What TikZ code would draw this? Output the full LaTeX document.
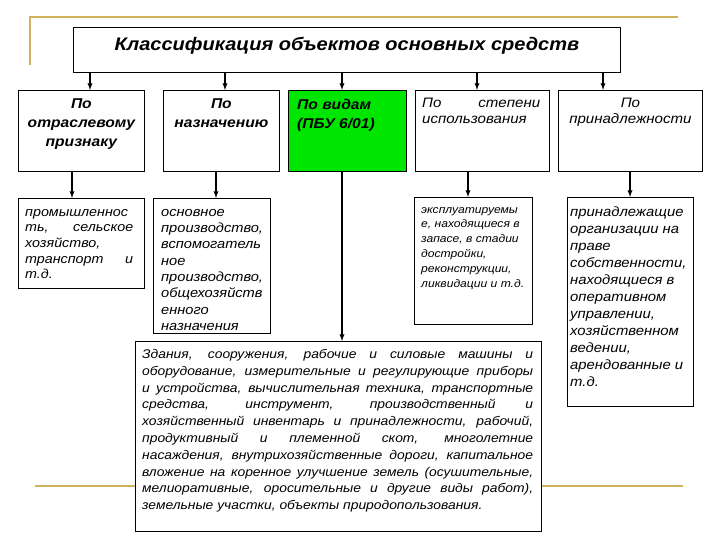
\documentclass[tikz,border=0pt]{standalone}
\usepackage{fontspec}
\setmainfont{Liberation Sans}[FakeStretch=1.1]
\usetikzlibrary{positioning}
\usetikzlibrary{arrows}
\definecolor{slidegold}{RGB}{208,178,92}
\definecolor{slidegreen}{RGB}{0,230,0}
\tikzstyle{frame}=[draw=black,line width=0.8pt,fill=white,anchor=north west,inner sep=0pt]
\tikzstyle{edge} = [draw,line width=1.3pt,-latex]
\tikzstyle{goldline} = [draw=slidegold,line width=2.6pt]
\tikzstyle{titletext}=[font=\bfseries\itshape\fontsize{18.2}{22}\selectfont,inner sep=0pt]
\tikzstyle{head}=[font=\bfseries\itshape\fontsize{14.2}{19}\selectfont,align=center,inner sep=0pt]
\tikzstyle{subhead}=[font=\itshape\fontsize{13.7}{16}\selectfont,align=center,inner sep=0pt]
\tikzstyle{list}=[font=\itshape\fontsize{13}{15.7}\selectfont,align=left,inner sep=0pt]
\hbadness=10000
\hfuzz=4pt

\begin{document}
\begin{tikzpicture}[x=1pt,y=-1pt]
  \useasboundingbox (0,0) rectangle (720,540);

  % slide decoration
  \draw[goldline] (30,65) -- (30,17) -- (678,17);
  \draw[goldline] (35,486) -- (683,486);

  \node[frame,minimum width=547pt,minimum height=45pt] (title) at (73,27) {};
  \node[titletext, below=10pt of title.north] (titleText) {Классификация объектов основных средств};

  % second row
  \foreach \pos/\name/\w in {{(18,90)/otrasl/126pt}, {(163,90)/naznach/116pt}, {(415,90)/stepen/134pt}, {(558,90)/prinadl/144pt}}
    \node[frame,minimum width=\w,minimum height=81pt] (\name) at \pos {};
  \node[frame,fill=slidegreen,minimum width=118pt,minimum height=81pt] (vidy) at (288,90) {};

  \node[head, below=9pt of otrasl.north] (otraslHead) {По\\отраслевому\\признаку};
  \node[head, below=9pt of naznach.north] (naznachHead) {По\\назначению};
  \node[head, align=left, below right=9pt and 9pt of vidy.north west] (vidyHead) {По видам\\(ПБУ 6/01)};
  \node[subhead, align=justify, text width=118pt, below right=8pt and 7pt of stepen.north west] (stepenHead) {По степени\linebreak использования};
  \node[subhead, below=8pt of prinadl.north] (prinadlHead) {По\\принадлежности};

  % third row
  \foreach \pos/\name/\w/\h in {{(18,198)/otraslList/126pt/90pt}, {(153,198)/naznachList/117pt/135pt}, {(414,197)/stepenList/118pt/127pt}, {(567,197)/prinadlList/126pt/209pt}, {(135,341)/vidyList/406pt/190pt}}
    \node[frame,minimum width=\w,minimum height=\h] (\name) at \pos {};

  \node[list, align=justify, text width=108pt, below right=11pt and 7pt of otraslList.north west] (otraslText)
    {промышленнос\newline ть,\hfill сельское\linebreak хозяйство,\newline транспорт\hfill и\linebreak т.д.};
  \node[list, font=\itshape\fontsize{13.3}{16.3}\selectfont, below right=11pt and 8pt of naznachList.north west] (naznachText)
    {основное\\производство,\\вспомогатель\\ное\\производство,\\общехозяйств\\енного\\назначения};
  \node[list, font=\itshape\fontsize{11}{14.8}\selectfont, below right=10pt and 7pt of stepenList.north west] (stepenText)
    {эксплуатируемы\\е, находящиеся в\\запасе, в стадии\\достройки,\\реконструкции,\\ликвидации и т.д.};
  \node[list, font=\itshape\fontsize{13.5}{17}\selectfont, below right=10pt and 3pt of prinadlList.north west] (prinadlText)
    {принадлежащие\\организации на\\праве\\собственности,\\находящиеся в\\оперативном\\управлении,\\хозяйственном\\ведении,\\арендованные и\\т.д.};
  \node[list, align=justify, text width=391pt, font=\itshape\fontsize{12.6}{16.8}\selectfont, below right=8pt and 7pt of vidyList.north west] (vidyText)
    {Здания, сооружения, рабочие и силовые машины и\linebreak
     оборудование, измерительные и регулирующие приборы\linebreak
     и устройства, вычислительная техника, транспортные\linebreak
     средства, инструмент, производственный и\linebreak
     хозяйственный инвентарь и принадлежности, рабочий,\linebreak
     продуктивный и племенной скот, многолетние\linebreak
     насаждения, внутрихозяйственные дороги, капитальное\linebreak
     вложение на коренное улучшение земель (осушительные,\linebreak
     мелиоративные, оросительные и другие виды работ),\linebreak
     земельные участки, объекты природопользования.};

  % arrows
  \foreach \dest/\xx in {otrasl/90, naznach/225, vidy/342, stepen/477, prinadl/603}
    \path[edge] (\xx,0 |- title.south) -- (\xx,0 |- \dest.north);
  \foreach \source/\dest/\xx in {otrasl/otraslList/72, naznach/naznachList/216, vidy/vidyList/342, stepen/stepenList/468, prinadl/prinadlList/630}
    \path[edge] (\xx,0 |- \source.south) -- (\xx,0 |- \dest.north);
\end{tikzpicture}
\end{document}
